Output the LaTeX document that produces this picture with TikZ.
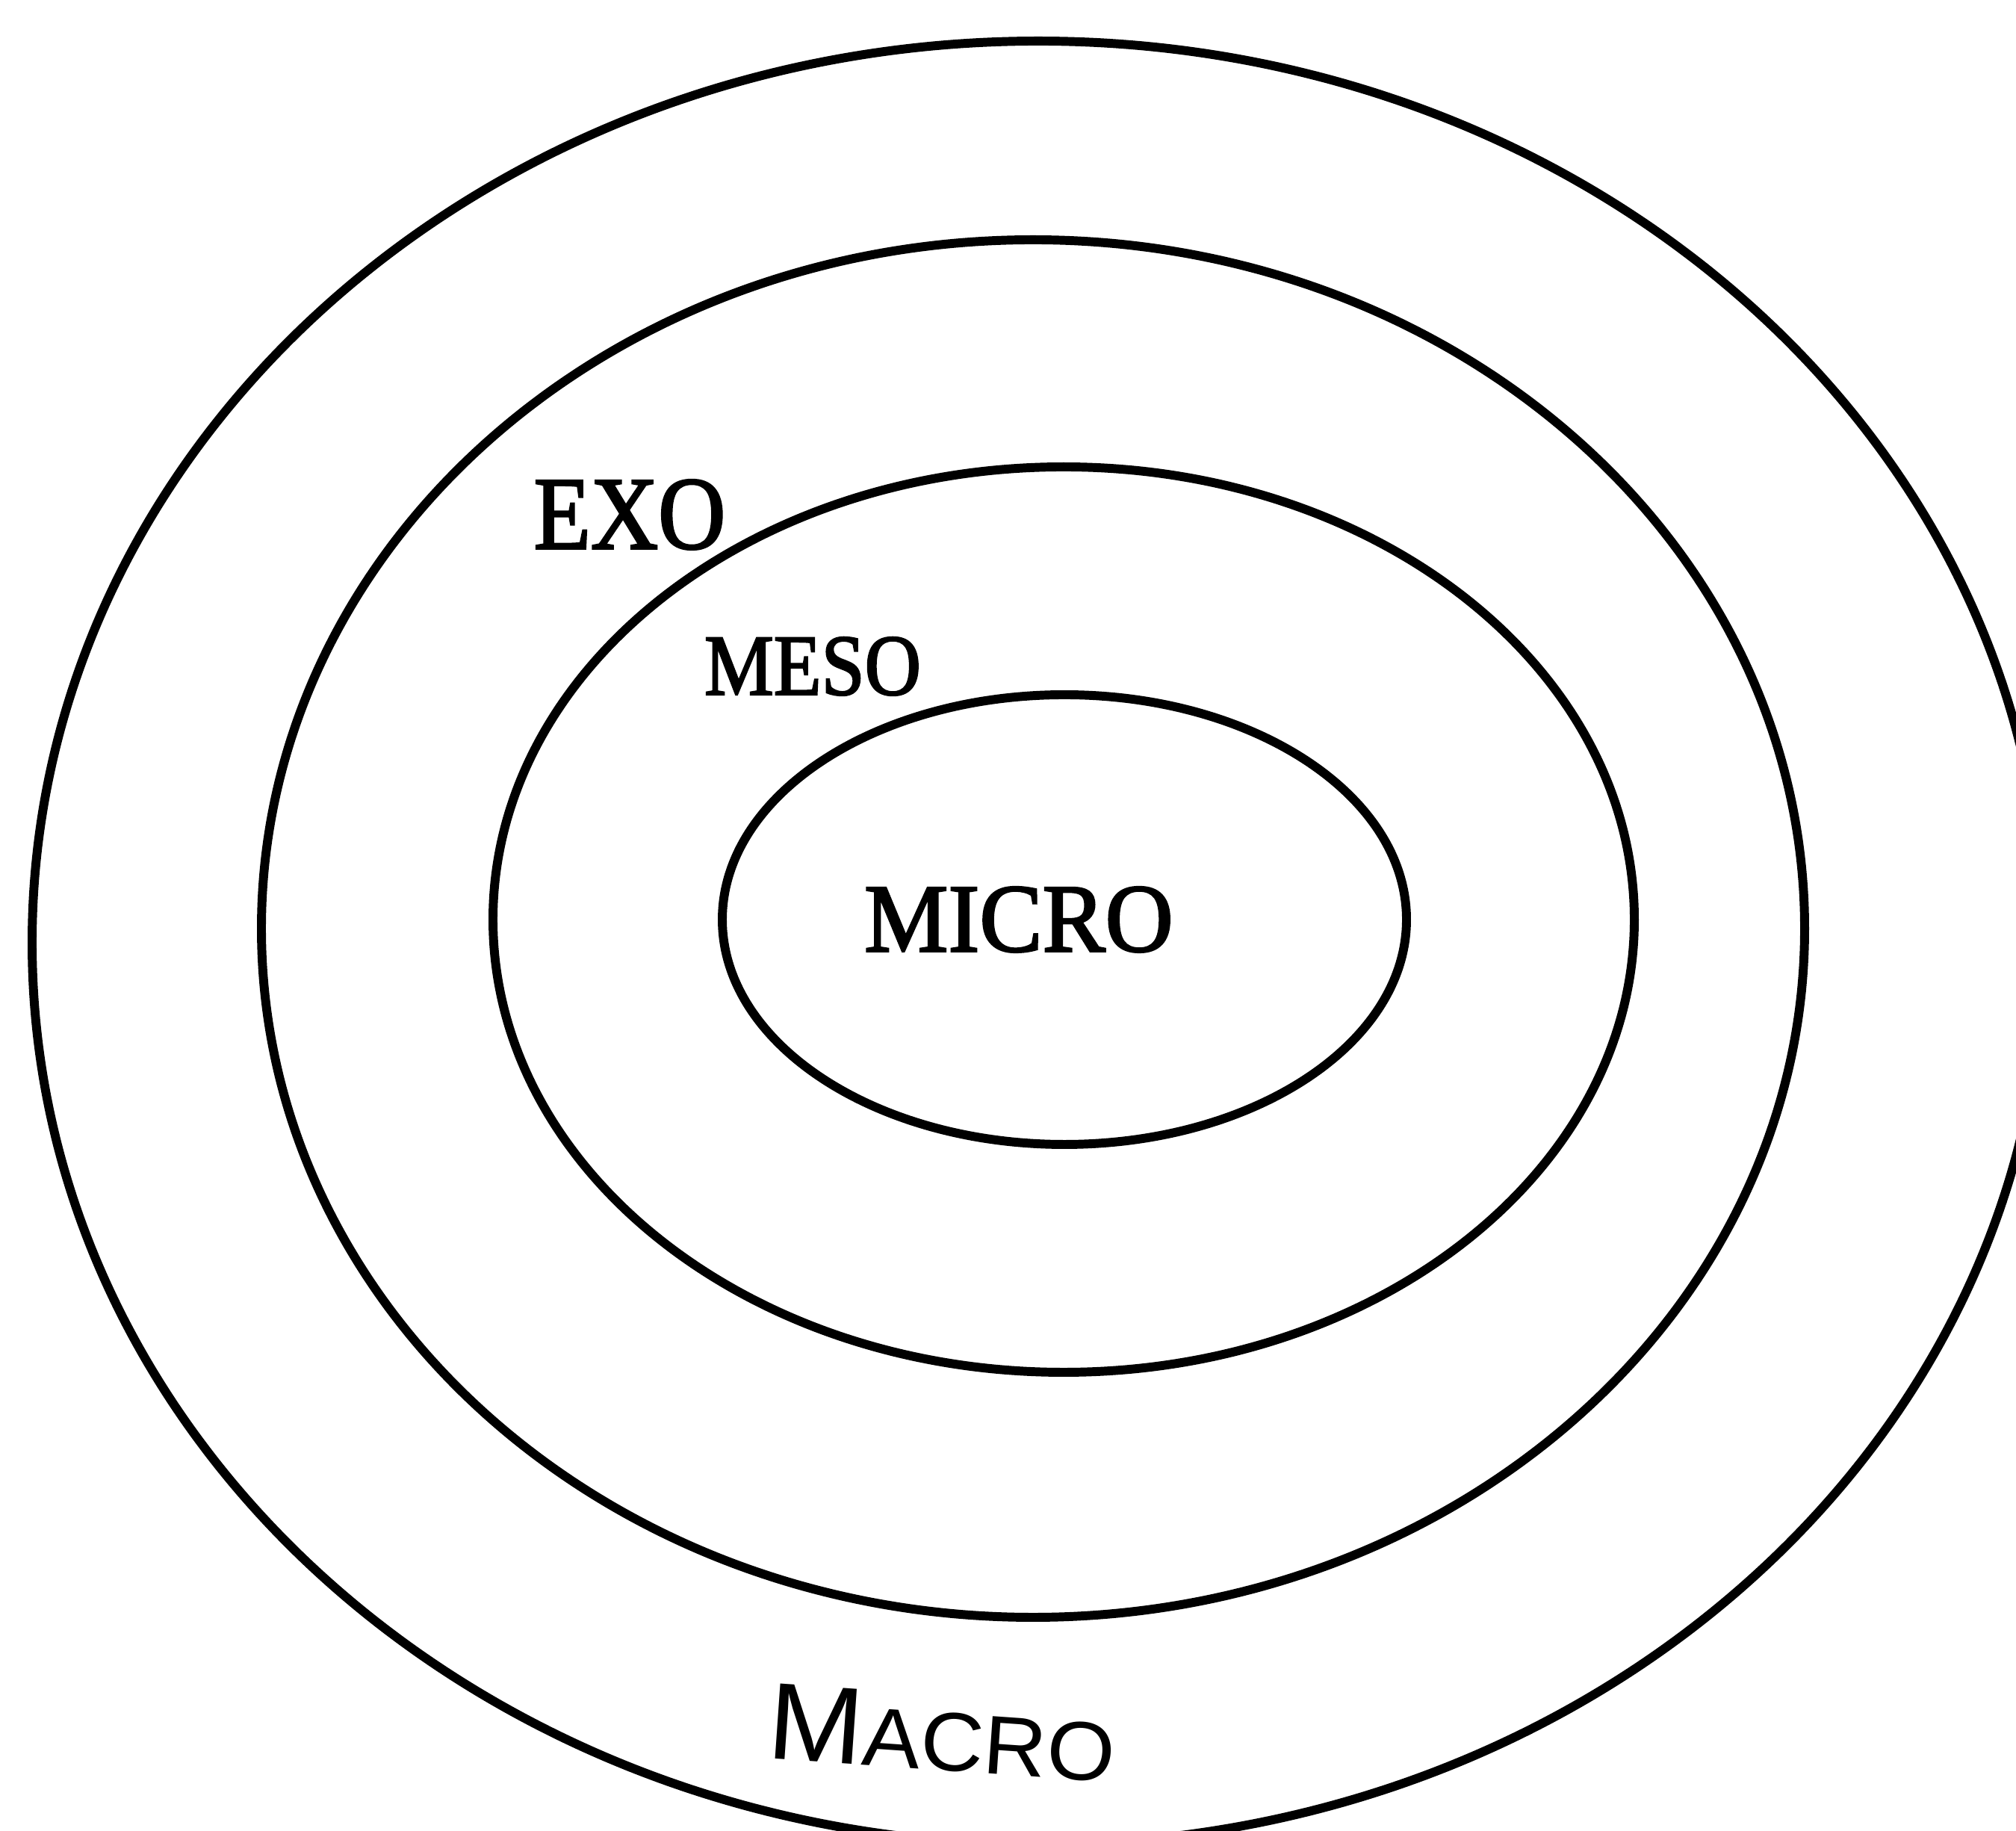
\documentclass[tikz,border=0pt]{standalone}
\usepackage{fontspec}
\setmainfont{Liberation Serif}
\setsansfont{Liberation Sans}
\newfontfamily\typedfont[FakeBold=2.2]{Liberation Serif}

\begin{document}
\begin{tikzpicture}[ring/.style={line width=3.4pt},
  lvl/.style={inner sep=0pt}]

% Page frame (background)
\useasboundingbox (0,0) rectangle (26.99,24.51);
\clip (0,0) rectangle (26.99,24.51);

% Draw the nested levels, outermost first
\draw[ring] (13.90,11.89) ellipse [x radius=13.47, y radius=12.07];
\draw[ring] (13.83,12.08) ellipse [x radius=10.33, y radius=9.22];
\draw[ring] (14.24,12.20) ellipse [x radius=7.64, y radius=6.06];
\draw[ring] (14.25,12.20) ellipse [x radius=4.58, y radius=3.01];

% Level names
\node[lvl] (exo) at (8.43,17.62)
  {\typedfont\fontsize{39.5}{40}\selectfont\scalebox{0.9}[1]{EXO}};
\node[lvl] (meso) at (10.88,15.59)
  {\typedfont\fontsize{33}{34}\selectfont\scalebox{0.9}[1]{MESO}};
\node[lvl] (micro) at (13.64,12.20)
  {\typedfont\fontsize{37}{38}\selectfont\scalebox{0.97}[1]{MICRO}};
\node[lvl, rotate=-4] (macro) at (12.61,1.31)
  {\sffamily\scalebox{1.05}[1]{\fontsize{41.6}{42}\selectfont M\fontsize{31.7}{32}\selectfont ACRO}};

\end{tikzpicture}
\end{document}
